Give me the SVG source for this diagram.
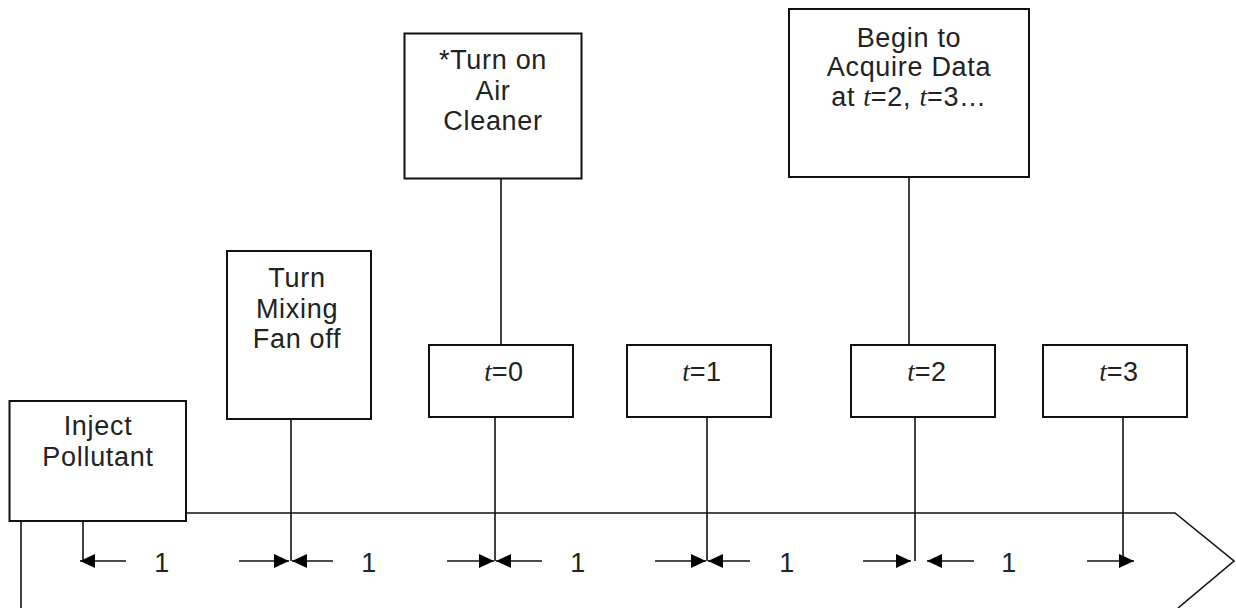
<svg xmlns="http://www.w3.org/2000/svg" width="1236" height="608" viewBox="0 0 1236 608">
<defs>
<style>
.box{fill:#fff;stroke:#111;stroke-width:2}
.ln{fill:none;stroke:#111;stroke-width:1.6}
.lbl{font-family:"Liberation Sans",Arial,sans-serif;font-size:27px;fill:#222;text-anchor:middle;letter-spacing:0.7px}
.it{font-family:"Liberation Serif","Times New Roman",serif;font-style:italic;letter-spacing:0}
.arr{fill:none;stroke:#111;stroke-width:1.6;marker-end:url(#ah)}
</style>
<marker id="ah" markerUnits="userSpaceOnUse" markerWidth="16" markerHeight="14" refX="15" refY="7" orient="auto">
<path d="M0,0 L15,7 L0,14 z" fill="#000"/>
</marker>
</defs>
<g id="connectors">
<polyline class="ln" points="21,608 21,521"/>
<polyline class="ln" points="186,513 1175,513 1234,561 1178,608"/>
<line class="ln" x1="83" y1="521" x2="83" y2="561"/>
<line class="ln" x1="291" y1="419" x2="291" y2="561"/>
<line class="ln" x1="501" y1="178" x2="501" y2="345"/>
<line class="ln" x1="495" y1="417" x2="495" y2="561"/>
<line class="ln" x1="707" y1="417" x2="707" y2="561"/>
<line class="ln" x1="909" y1="177" x2="909" y2="345"/>
<line class="ln" x1="915" y1="417" x2="915" y2="561"/>
<line class="ln" x1="1123" y1="417" x2="1123" y2="561"/>
<line class="arr" x1="126" y1="561" x2="80" y2="561"/>
<line class="arr" x1="239" y1="561" x2="289" y2="561"/>
<line class="arr" x1="333" y1="561" x2="292" y2="561"/>
<line class="arr" x1="447" y1="561" x2="494" y2="561"/>
<line class="arr" x1="542" y1="561" x2="496" y2="561"/>
<line class="arr" x1="655" y1="561" x2="706" y2="561"/>
<line class="arr" x1="750" y1="561" x2="708" y2="561"/>
<line class="arr" x1="863" y1="561" x2="911" y2="561"/>
<line class="arr" x1="974" y1="561" x2="927" y2="561"/>
<line class="arr" x1="1087" y1="561" x2="1134" y2="561"/>
<text class="lbl" x="162" y="572">1</text>
<text class="lbl" x="369" y="572">1</text>
<text class="lbl" x="578" y="572">1</text>
<text class="lbl" x="787" y="572">1</text>
<text class="lbl" x="1009" y="572">1</text>
</g>
<g id="inject">
<rect class="box" x="9.5" y="401" width="176.5" height="120"/>
<text class="lbl" x="98" y="435">Inject</text>
<text class="lbl" x="98" y="466">Pollutant</text>
</g>
<g id="fan">
<rect class="box" x="227" y="251" width="144" height="168"/>
<text class="lbl" x="297" y="287">Turn</text>
<text class="lbl" x="297" y="318">Mixing</text>
<text class="lbl" x="297" y="348">Fan off</text>
</g>
<g id="cleaner">
<rect class="box" x="404.5" y="33.5" width="177" height="145"/>
<text class="lbl" x="493" y="69">*Turn on</text>
<text class="lbl" x="493" y="100">Air</text>
<text class="lbl" x="493" y="130">Cleaner</text>
</g>
<g id="acquire">
<rect class="box" x="789" y="9" width="240" height="168"/>
<text class="lbl" x="909" y="47">Begin to</text>
<text class="lbl" x="909" y="76">Acquire Data</text>
<text class="lbl" x="909" y="106">at <tspan class="it">t</tspan>=2, <tspan class="it">t</tspan>=3…</text>
</g>
<g id="t0">
<rect class="box" x="429" y="345" width="144" height="72"/>
<text class="lbl" x="504" y="381"><tspan class="it">t</tspan>=0</text>
</g>
<g id="t1">
<rect class="box" x="627" y="345" width="144" height="72"/>
<text class="lbl" x="702" y="381"><tspan class="it">t</tspan>=1</text>
</g>
<g id="t2">
<rect class="box" x="851" y="345" width="144" height="72"/>
<text class="lbl" x="927" y="381"><tspan class="it">t</tspan>=2</text>
</g>
<g id="t3">
<rect class="box" x="1043" y="345" width="144" height="72"/>
<text class="lbl" x="1119" y="381"><tspan class="it">t</tspan>=3</text>
</g>
</svg>
